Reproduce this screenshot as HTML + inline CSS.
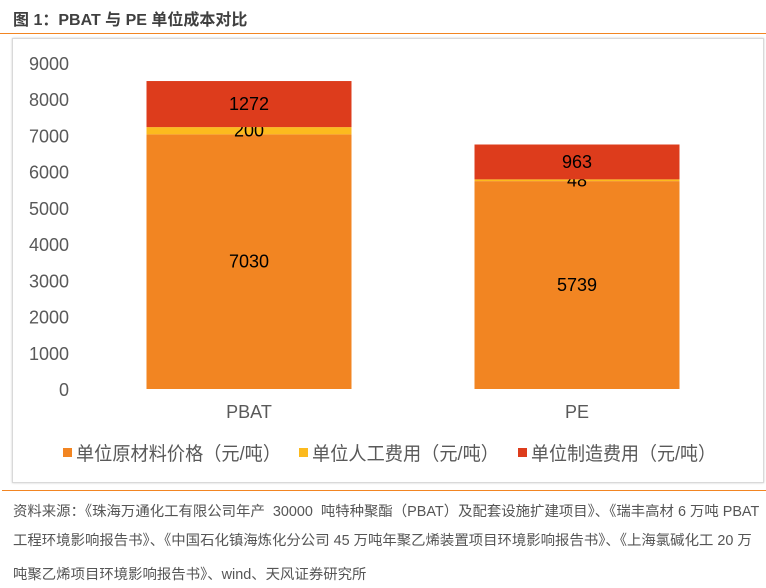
<!DOCTYPE html>
<html><head><meta charset="utf-8"><style>
body{margin:0;width:766px;height:588px;background:#fff;font-family:"Liberation Sans","Noto Sans CJK SC",sans-serif;position:relative;overflow:hidden}
.t{position:absolute;white-space:nowrap}
.s{position:absolute;left:13px;white-space:nowrap;font-size:14.4px;color:#555}
</style></head><body>
<div class="t" style="left:13px;top:6px;font-size:16px;font-weight:bold;color:#404040">图 1：PBAT 与 PE 单位成本对比</div>
<div style="position:absolute;left:0;top:33px;width:766px;height:1px;background:#F28522"></div>
<div style="position:absolute;left:12px;top:38px;width:750px;height:443px;border:1px solid #d9d9d9;box-shadow:0 0 2px #ccc"></div>
<svg id="c" width="766" height="588" style="position:absolute;left:0;top:0"></svg>
<div style="position:absolute;left:2px;top:490px;width:764px;height:1px;background:#F28522"></div>
<div class="s" style="top:500px">资料来源：《珠海万通化工有限公司年产 &nbsp;30000 &nbsp;吨特种聚酯（PBAT）及配套设施扩建项目》、《瑞丰高材 6 万吨 PBAT</div>
<div class="s" style="top:529px">工程环境影响报告书》、《中国石化镇海炼化分公司 45 万吨年聚乙烯装置项目环境影响报告书》、《上海氯碱化工 20 万</div>
<div class="s" style="top:563px">吨聚乙烯项目环境影响报告书》、wind、天风证券研究所</div>
<script>
const categories=["PBAT","PE"];
const seriesNames=["单位原材料价格（元/吨）","单位人工费用（元/吨）","单位制造费用（元/吨）"];
const rawMaterial=[7030,5739];
const labor=[200,48];
const manufacturing=[1272,963];
const yTicks=[0,1000,2000,3000,4000,5000,6000,7000,8000,9000];
const colors=["#F28522","#FCBA1E","#DD3C1C"];
const svg=document.getElementById('c');const NS="http://www.w3.org/2000/svg";
const y0=389,yTop=63,yMax=9000;
const y=v=>y0-(v/yMax)*(y0-yTop);
const bandL=85,bandW=656,bw=205;
const xc=i=>bandL+bandW/categories.length*(i+0.5);
function mk(tag,a,txt){const e=document.createElementNS(NS,tag);for(const k in a)e.setAttribute(k,a[k]);if(txt!=null)e.textContent=txt;svg.appendChild(e);return e;}
yTicks.forEach(v=>{const e=mk('text',{x:69,y:y(v)+7,'text-anchor':'end','font-size':18,fill:'#595959','font-family':'Liberation Sans, sans-serif'},v);

});
const series=[rawMaterial,labor,manufacturing];
categories.forEach((c,i)=>{let base=0;
series.forEach((s,k)=>{const v=s[i];const r=mk('rect',{x:xc(i)-bw/2,y:y(base+v),width:bw,height:y(base)-y(base+v),fill:colors[k]});


const ly=(y(base)+y(base+v))/2+6;
const t=mk('text',{x:xc(i),y:ly,'text-anchor':'middle','font-size':18,fill:'#000','font-family':'Liberation Sans, sans-serif'},v);


base+=v;});
const cl=mk('text',{x:xc(i),y:418,'text-anchor':'middle','font-size':18,fill:'#595959','font-family':'Liberation Sans, sans-serif'},c);


});
const lx=[63,299,518];
const lw=[205,187,185];
seriesNames.forEach((n,k)=>{const r=mk('rect',{x:lx[k],y:448,width:9,height:9,fill:colors[k]});


const t=mk('text',{x:lx[k]+13,y:460,'font-size':19,fill:'#595959',textLength:lw[k],lengthAdjust:'spacingAndGlyphs','font-family':'Liberation Sans, Noto Sans CJK SC, sans-serif'},n);

});
</script>
</body></html>
